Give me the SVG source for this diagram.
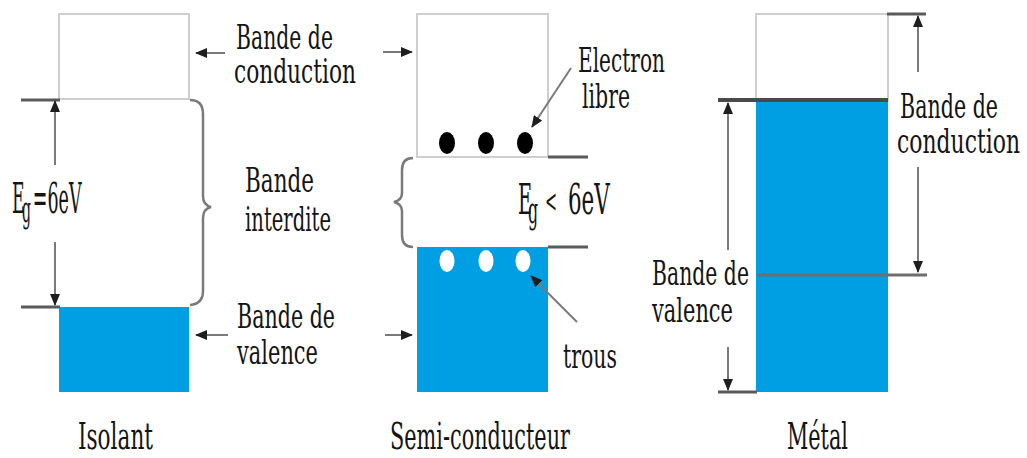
<svg xmlns="http://www.w3.org/2000/svg" width="1027" height="458" viewBox="0 0 1027 458">
<style>
.box{fill:#fff;stroke:#cfcfcf;stroke-width:2}
.blue{fill:#009fe3}
.edge{stroke:#5a5a5a;stroke-width:3;fill:none}
.arr{stroke:#7a7a7a;stroke-width:2;fill:none;marker-end:url(#ah)}
.brace{stroke:#7a7a7a;stroke-width:2.5;fill:none}
text{fill:#141414;font-family:"DejaVu Serif","Liberation Serif","Times New Roman",serif}
.lbl{font-size:33px}
.ttl{font-size:38px}
.eg{font-size:43px}
.sub{font-size:35px}
</style>
<defs>
<marker id="ah" viewBox="0 0 12 10" refX="11" refY="5" markerWidth="12" markerHeight="10" markerUnits="userSpaceOnUse" orient="auto">
<path d="M0,0 L12,5 L0,10 Z" fill="#1e1e1e"/>
</marker>
</defs>

<g id="isolant">
<rect class="box" x="59" y="14" width="130" height="85"/>
<rect class="blue" x="59" y="307" width="130" height="85"/>
<line class="edge" x1="21" y1="100" x2="60" y2="100"/>
<line class="edge" x1="21" y1="307" x2="60" y2="307"/>
<path class="brace" d="M190,100 Q203,100 203,114 L203,196 Q203,205 211,207 Q203,209 203,218 L203,291 Q203,304 190,305"/>
<text class="eg" transform="translate(12,213) scale(0.4,1)"><tspan x="0" y="0">E</tspan><tspan class="sub" x="25" y="9">g</tspan><tspan x="52" y="0" textLength="122" lengthAdjust="spacingAndGlyphs">=6eV</tspan></text>
<text class="ttl" transform="translate(78,449) scale(0.6,1)" textLength="125" lengthAdjust="spacingAndGlyphs">Isolant</text>
</g>

<g id="label-conduction-1">
<text class="lbl" transform="translate(236,49) scale(0.65,1)" textLength="149.2" lengthAdjust="spacingAndGlyphs">Bande de</text>
<text class="lbl" transform="translate(234,83) scale(0.65,1)" textLength="187.7" lengthAdjust="spacingAndGlyphs">conduction</text>
</g>
<g id="label-interdite">
<text class="lbl" transform="translate(245,192) scale(0.65,1)" textLength="106.2" lengthAdjust="spacingAndGlyphs">Bande</text>
<text class="lbl" transform="translate(245,231) scale(0.65,1)" textLength="132.3" lengthAdjust="spacingAndGlyphs">interdite</text>
</g>
<g id="label-valence-1">
<text class="lbl" transform="translate(237,328) scale(0.65,1)" textLength="150.8" lengthAdjust="spacingAndGlyphs">Bande de</text>
<text class="lbl" transform="translate(237,364) scale(0.65,1)" textLength="124.6" lengthAdjust="spacingAndGlyphs">valence</text>
</g>

<g id="semiconducteur">
<rect class="box" x="417" y="14" width="131" height="143"/>
<rect class="blue" x="417" y="247" width="131" height="145"/>
<line class="edge" x1="548" y1="157" x2="588" y2="157"/>
<line class="edge" x1="548" y1="247" x2="588" y2="247"/>
<ellipse cx="447" cy="143" rx="8" ry="11" fill="#000"/>
<ellipse cx="486" cy="143" rx="8" ry="11" fill="#000"/>
<ellipse cx="525" cy="143" rx="8" ry="11" fill="#000"/>
<ellipse cx="447" cy="261" rx="7.5" ry="11" fill="#fff"/>
<ellipse cx="486" cy="261" rx="7.5" ry="11" fill="#fff"/>
<ellipse cx="523" cy="261" rx="7.5" ry="11" fill="#fff"/>
<path class="brace" d="M413,158 Q402,158 402,170 L402,193 Q402,200 394,202 Q402,204 402,211 L402,235 Q402,247 413,247"/>
<text class="eg" transform="translate(518,214) scale(0.45,1)"><tspan x="0" y="0">E</tspan><tspan class="sub" x="22" y="9">g</tspan><tspan x="60" y="-2" font-size="32">&lt;</tspan><tspan x="111" y="0" textLength="93" lengthAdjust="spacingAndGlyphs">6eV</tspan></text>
<text class="ttl" transform="translate(390,449) scale(0.6,1)" textLength="300" lengthAdjust="spacingAndGlyphs">Semi-conducteur</text>
</g>

<g id="label-electron">
<text class="lbl" transform="translate(578,72) scale(0.65,1)" textLength="133.8" lengthAdjust="spacingAndGlyphs">Electron</text>
<text class="lbl" transform="translate(582,108) scale(0.65,1)" textLength="73.8" lengthAdjust="spacingAndGlyphs">libre</text>
</g>
<g id="label-trous">
<text class="lbl" transform="translate(563,368) scale(0.65,1)" textLength="83" lengthAdjust="spacingAndGlyphs">trous</text>
</g>

<g id="metal">
<rect class="box" x="756" y="14" width="132" height="87"/>
<rect class="blue" x="756" y="101" width="132" height="291"/>
<line class="edge" x1="887" y1="14" x2="926" y2="14"/>
<line class="edge" x1="718" y1="100" x2="888" y2="100" style="stroke:#4a4a4a;stroke-width:4"/>
<line class="edge" x1="757" y1="275" x2="927" y2="275" style="stroke:#6e6e6e"/>
<line class="edge" x1="718" y1="392" x2="757" y2="392"/>
<text class="ttl" transform="translate(787,449) scale(0.6,1)" textLength="101.7" lengthAdjust="spacingAndGlyphs">Métal</text>
</g>

<g id="label-conduction-3">
<text class="lbl" transform="translate(900,118) scale(0.65,1)" textLength="150.8" lengthAdjust="spacingAndGlyphs">Bande de</text>
<text class="lbl" transform="translate(897,153) scale(0.65,1)" textLength="189.2" lengthAdjust="spacingAndGlyphs">conduction</text>
</g>
<g id="label-valence-3">
<text class="lbl" transform="translate(652,285) scale(0.65,1)" textLength="149.2" lengthAdjust="spacingAndGlyphs">Bande de</text>
<text class="lbl" transform="translate(652,322) scale(0.65,1)" textLength="124.6" lengthAdjust="spacingAndGlyphs">valence</text>
</g>

<g id="connectors">
<line class="arr" x1="55" y1="165" x2="55" y2="101"/>
<line class="arr" x1="55" y1="242" x2="55" y2="305"/>
<line class="arr" x1="225" y1="53" x2="196" y2="53"/>
<line class="arr" x1="228" y1="335" x2="196" y2="335"/>
<line class="arr" x1="383" y1="52" x2="412" y2="52"/>
<line class="arr" x1="385" y1="335" x2="412" y2="335"/>
<line class="arr" x1="571" y1="68" x2="532" y2="127"/>
<line class="arr" x1="577" y1="322" x2="531" y2="276"/>
<line class="arr" x1="918" y1="72" x2="918" y2="16"/>
<line class="arr" x1="918" y1="167" x2="918" y2="272"/>
<line class="arr" x1="728" y1="250" x2="728" y2="103"/>
<line class="arr" x1="728" y1="347" x2="728" y2="390"/>
</g>
</svg>
